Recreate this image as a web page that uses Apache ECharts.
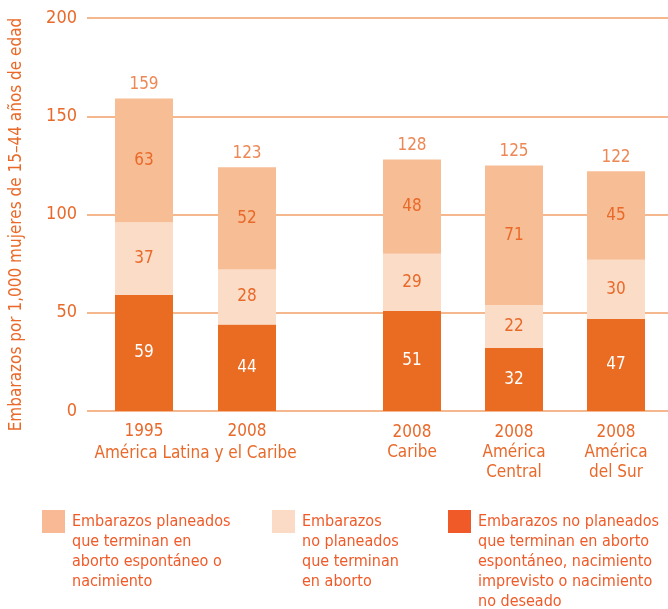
<!DOCTYPE html>
<html>
<head>
<meta charset="utf-8">
<script src="https://cdn.jsdelivr.net/npm/echarts@6/dist/echarts.min.js"></script>
<style>
	html, body { margin: 0; padding: 0; background: #fff; }
	#chart { width: 668px; height: 609px; }
</style>
</head>
<body>
<div id="chart"></div>
<script>
	// valores
	var catsALC = ['1995', '2008'];
	var catsSub = ['2008\nCaribe', '2008\nAmérica\nCentral', '2008\nAmérica\ndel Sur'];
	var noPlanNac = [59, 44, 51, 32, 47];     // no planeados: aborto espontáneo, nacimiento...
	var noPlanAbo = [37, 28, 29, 22, 30];     // no planeados que terminan en aborto
	var planeados = [63, 52, 48, 71, 45];     // planeados
	var totales = [159, 123, 128, 125, 122];
	var yTicks = [0, 50, 100, 150, 200];

	var font = "'Liberation Sans Narrow', 'DejaVu Sans Condensed', 'Roboto', sans-serif";
	var orange = '#E9692A';
	var cDark = '#EA6B22', cMid = '#FBDCC6', cTop = '#F7BD94';

	var legendItems = [
		{ color: '#F9B995', x: 42, text: 'Embarazos planeados\nque terminan en\naborto espontáneo o\nnacimiento' },
		{ color: '#FBDAC6', x: 272, text: 'Embarazos\nno planeados\nque terminan\nen aborto' },
		{ color: '#F05A28', x: 448, text: 'Embarazos no planeados\nque terminan en aborto\nespontáneo, nacimiento\nimprevisto o nacimiento\nno deseado' }
	];

	var chart = echarts.init(document.getElementById('chart'));

	function part(arr, from, to) { return arr.slice(from, to); }

	function stackSeries(gi, from, to) {
		var idx = gi;
		var sums = [];
		for (var i = from; i < to; i++) sums.push(noPlanNac[i] + noPlanAbo[i] + planeados[i]);
		var tot = part(totales, from, to);
		return [
			{
				type: 'bar', stack: 's' + gi, xAxisIndex: idx, yAxisIndex: idx, barWidth: 58,
				data: part(noPlanNac, from, to), itemStyle: { color: cDark },
				label: { show: true, position: 'inside', color: '#fff', fontSize: 17, fontFamily: font }
			},
			{
				type: 'bar', stack: 's' + gi, xAxisIndex: idx, yAxisIndex: idx, barWidth: 58,
				data: part(noPlanAbo, from, to), itemStyle: { color: cMid },
				label: { show: true, position: 'inside', color: orange, fontSize: 17, fontFamily: font }
			},
			{
				type: 'bar', stack: 's' + gi, xAxisIndex: idx, yAxisIndex: idx, barWidth: 58,
				data: part(planeados, from, to), itemStyle: { color: cTop },
				label: { show: true, position: 'inside', color: orange, fontSize: 17, fontFamily: font }
			},
			{
				type: 'scatter', xAxisIndex: idx, yAxisIndex: idx, symbolSize: 1,
				itemStyle: { color: 'rgba(0,0,0,0)' }, silent: true,
				data: sums,
				label: {
					show: true, position: 'top', distance: 5, color: orange, fontSize: 17, fontFamily: font,
					formatter: function (p) { return tot[p.dataIndex]; }
				}
			}
		];
	}

	var graphics = [];
	legendItems.forEach(function (it) {
		graphics.push({ type: 'rect', left: it.x, top: 510, shape: { width: 23, height: 23 }, style: { fill: it.color } });
		graphics.push({
			type: 'text', left: it.x + 30, top: 512,
			style: { text: it.text, fill: '#F05A28', font: '16px ' + font, lineHeight: 20 }
		});
	});

	var hiddenY = { type: 'value', min: 0, max: 200, interval: 50, show: false };

	var option = {
		backgroundColor: '#fff',
		animation: false,
		grid: [
			{ left: 85, right: 0, top: 18, bottom: 198 },
			{ left: 92.5, width: 206, top: 18, bottom: 198 },
			{ left: 361, width: 306, top: 18, bottom: 198 }
		],
		xAxis: [
			{ type: 'category', gridIndex: 0, data: [''], show: false },
			{
				type: 'category', gridIndex: 1, data: catsALC,
				axisLine: { show: false }, axisTick: { show: false },
				axisLabel: { color: orange, fontSize: 17, fontFamily: font, margin: 12 },
				name: 'América Latina y el Caribe', nameLocation: 'middle', nameGap: 33,
				nameTextStyle: { color: orange, fontSize: 17, fontFamily: font }
			},
			{
				type: 'category', gridIndex: 2, data: catsSub,
				axisLine: { show: false }, axisTick: { show: false },
				axisLabel: { color: orange, fontSize: 17, fontFamily: font, margin: 12, lineHeight: 20, verticalAlign: 'top' }
			}
		],
		yAxis: [
			{
				type: 'value', gridIndex: 0, min: yTicks[0], max: yTicks[yTicks.length - 1], interval: 50,
				axisLine: { show: false }, axisTick: { show: false },
				axisLabel: { color: orange, fontSize: 18, fontFamily: font, margin: 10 },
				splitLine: { lineStyle: { color: '#F2A068', width: 1.5 } },
				name: 'Embarazos por 1,000 mujeres de 15–44 años de edad',
				nameLocation: 'middle', nameGap: 62, nameRotate: 90,
				nameTextStyle: { color: orange, fontSize: 17, fontFamily: font, padding: [0, 0, 0, -20] }
			},
			Object.assign({ gridIndex: 1 }, hiddenY),
			Object.assign({ gridIndex: 2 }, hiddenY)
		],
		series: [].concat(stackSeries(1, 0, 2), stackSeries(2, 2, 5)),
		graphic: graphics
	};

	chart.setOption(option);
</script>
</body>
</html>
